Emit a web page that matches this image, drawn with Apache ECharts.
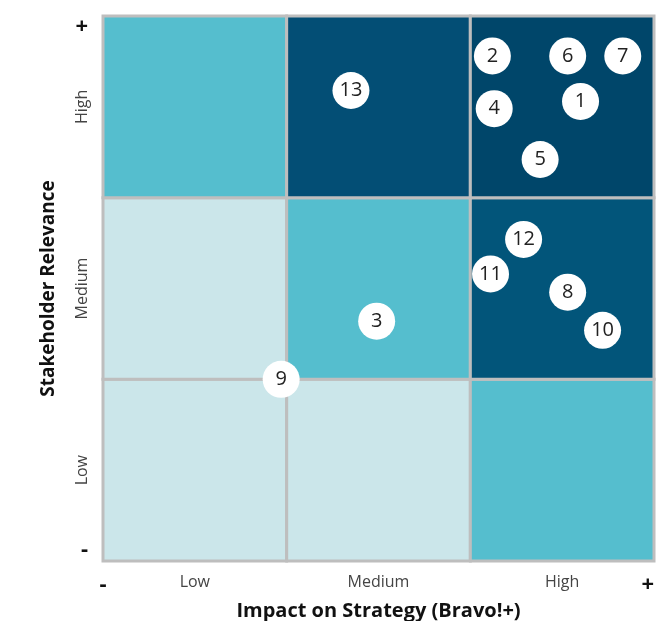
<!DOCTYPE html>
<html>
<head>
<meta charset="utf-8">
<script src="https://cdn.jsdelivr.net/npm/echarts@6/dist/echarts.min.js"></script>
<style>
  html, body { margin: 0; padding: 0; background: #fff; }
  #chart { width: 668px; height: 621px; }
</style>
</head>
<body>
<div id="chart"></div>
<script>
  // axis tick labels
  var levels = ['Low', 'Medium', 'High']
  var minMark = '-'
  var maxMark = '+'

  // matrix cells: [column, row, colour]  (row 0 = Low)
  var cellCols = [0, 1, 2, 0, 1, 2, 0, 1, 2]
  var cellRows = [0, 0, 0, 1, 1, 1, 2, 2, 2]
  var cellColors = ['#CBE6EA', '#CBE6EA', '#55BECE',
                    '#CBE6EA', '#55BECE', '#02557A',
                    '#55BECE', '#034E75', '#00466A']

  // numbered topics
  var topicIds = ['1', '2', '3', '4', '5', '6', '7', '8', '9', '10', '11', '12', '13']
  var impact = [2.60, 2.12, 1.49, 2.13, 2.38, 2.53, 2.83, 2.53, 0.97, 2.72, 2.11, 2.29, 1.35]
  var relevance = [2.53, 2.78, 1.32, 2.49, 2.21, 2.78, 2.78, 1.48, 1.00, 1.27, 1.58, 1.77, 2.59]

  var chart = echarts.init(document.getElementById('chart'))

  var cellData = cellCols.map(function (c, i) {
    return [c, cellRows[i], cellColors[i]]
  })
  var pointData = topicIds.map(function (id, i) {
    return { name: id, value: [impact[i], relevance[i]] }
  })

  function levelLabel(v) {
    if (v === 0) return '{mark|' + minMark + '}'
    if (v === 3) return '{mark|' + maxMark + '}'
    var idx = v - 0.5
    if (Math.abs(idx - Math.round(idx)) < 1e-6) return levels[Math.round(idx)]
    return ''
  }

  var labelFont = '"Open Sans", sans-serif'

  chart.setOption({
    animation: false,
    grid: { left: 103, right: 14, top: 16, bottom: 60, outerBoundsMode: 'none' },
    xAxis: {
      type: 'value',
      min: 0,
      max: 3,
      interval: 0.5,
      name: 'Impact on Strategy (Bravo!+)',
      nameLocation: 'middle',
      nameGap: 36,
      nameTextStyle: { fontFamily: labelFont, fontWeight: 'bold', fontSize: 20, color: '#111' },
      axisLine: { show: false },
      axisTick: { show: false },
      splitLine: { show: false },
      axisLabel: {
        margin: 13,
        fontFamily: labelFont,
        fontSize: 16,
        color: '#444',
        alignMaxLabel: 'right',
        formatter: levelLabel,
        rich: { mark: { fontSize: 22, fontWeight: 'bold', color: '#111' } }
      }
    },
    yAxis: [{
      type: 'value',
      min: 0,
      max: 3,
      interval: 0.5,
      name: 'Stakeholder Relevance',
      nameLocation: 'middle',
      nameGap: 45,
      nameTextStyle: { fontFamily: labelFont, fontWeight: 'bold', fontSize: 19, color: '#111' },
      axisLine: { show: false },
      axisTick: { show: false },
      splitLine: { show: false },
      axisLabel: {
        rotate: 90,
        margin: 13,
        fontFamily: labelFont,
        fontSize: 16,
        color: '#444',
        formatter: function (v) {
          var idx = v - 0.5
          if (v > 0 && v < 3 && Math.abs(idx - Math.round(idx)) < 1e-6) return levels[Math.round(idx)]
          return ''
        }
      }
    }, {
      type: 'value',
      position: 'left',
      min: 0,
      max: 3,
      interval: 0.5,
      axisLine: { show: false },
      axisTick: { show: false },
      splitLine: { show: false },
      axisLabel: {
        margin: 15,
        verticalAlignMinLabel: 'bottom',
        verticalAlignMaxLabel: 'top',
        formatter: function (v) {
          if (v === 0) return '{mark|' + minMark + '}'
          if (v === 3) return '{mark|' + maxMark + '}'
          return ''
        },
        rich: { mark: { fontFamily: labelFont, fontSize: 22, fontWeight: 'bold', color: '#111' } }
      }
    }],
    series: [{
      type: 'custom',
      z: 1,
      silent: true,
      data: cellData,
      renderItem: function (params, api) {
        var topLeft = api.coord([api.value(0), api.value(1) + 1])
        var size = api.size([1, 1])
        return {
          type: 'rect',
          shape: { x: topLeft[0], y: topLeft[1], width: size[0], height: size[1] },
          style: { fill: api.value(2), stroke: '#BEBEBE', lineWidth: 3 }
        }
      },
      encode: { x: 0, y: 1 }
    }, {
      type: 'scatter',
      z: 5,
      symbol: 'circle',
      symbolSize: 37,
      itemStyle: { color: '#fff', opacity: 1 },
      data: pointData,
      label: {
        show: true,
        position: 'inside',
        formatter: '{b}',
        fontFamily: labelFont,
        fontSize: 20,
        color: '#222'
      }
    }]
  })
</script>
</body>
</html>
